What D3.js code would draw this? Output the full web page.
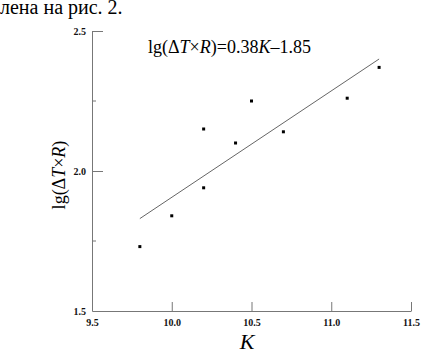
<!DOCTYPE html>
<html>
<head>
<meta charset="utf-8">
<script src="https://cdn.jsdelivr.net/npm/d3@7"></script>
<style>
  html, body { margin: 0; padding: 0; background: #fff; }
  svg { display: block; }
</style>
</head>
<body>
<div id="chart"></div>
<script>
// measured points
const kValues = [9.8, 10.0, 10.2, 10.2, 10.4, 10.5, 10.7, 11.1, 11.3];
const lgValues = [1.73, 1.84, 1.94, 2.15, 2.10, 2.25, 2.14, 2.26, 2.37];
// fitted line ends
const fitK = [9.8, 11.3];
const fitLg = [1.83, 2.40];
const xTicks = [9.5, 10.0, 10.5, 11.0, 11.5];
const yTicks = [1.5, 2.0, 2.5];
const yMinorTicks = [1.75, 2.25];

const W = 421, H = 354;
const margin = { top: 31, right: 10, bottom: 43, left: 92 };
const serif = 'Liberation Serif';
const axisColor = '#777';

const svg = d3.select('#chart').append('svg')
  .attr('width', W).attr('height', H);

// caption fragment at the top of the page
svg.append('text')
  .attr('x', 0).attr('y', 14)
  .attr('font-family', serif).attr('font-size', 20)
  .attr('fill', '#000')
  .text('лена на рис. 2.');

const x = d3.scaleLinear().domain([9.5, 11.5]).range([margin.left, W - margin.right]);
const y = d3.scaleLinear().domain([1.5, 2.5]).range([H - margin.bottom, margin.top]);

// axes with inward ticks
const xAxis = svg.append('g')
  .attr('transform', `translate(0,${y(1.5)})`)
  .call(d3.axisBottom(x).tickValues(xTicks).tickSizeInner(-9).tickSizeOuter(0)
    .tickFormat(d3.format('.1f')));
xAxis.attr('font-family', serif).attr('font-size', 10).attr('font-weight', 'bold');
xAxis.select('.domain').attr('stroke', axisColor);
xAxis.selectAll('.tick line').attr('stroke', axisColor);
xAxis.selectAll('.tick text')
  .attr('y', 8).attr('dy', '0.71em')
  .attr('fill', '#111');
xAxis.selectAll('.tick').filter(d => d === 9.5).select('line').remove();

const yAxis = svg.append('g')
  .attr('transform', `translate(${x(9.5)},0)`)
  .call(d3.axisLeft(y).tickValues(yTicks).tickSizeInner(-11).tickSizeOuter(0)
    .tickFormat(d3.format('.1f')));
yAxis.attr('font-family', serif).attr('font-size', 10).attr('font-weight', 'bold');
yAxis.select('.domain').attr('stroke', axisColor);
yAxis.selectAll('.tick line').attr('stroke', axisColor);
yAxis.selectAll('.tick text')
  .attr('x', -6)
  .attr('fill', '#111');
yAxis.selectAll('.tick').filter(d => d === 1.5).select('line').remove();

svg.append('g').selectAll('line')
  .data(yMinorTicks).join('line')
  .attr('x1', x(9.5)).attr('x2', x(9.5) + 4)
  .attr('y1', d => y(d)).attr('y2', d => y(d))
  .attr('stroke', axisColor);

// fitted line
svg.append('line')
  .attr('x1', x(fitK[0])).attr('y1', y(fitLg[0]))
  .attr('x2', x(fitK[1])).attr('y2', y(fitLg[1]))
  .attr('stroke', '#666').attr('stroke-width', 1);

// points
const pts = kValues.map((k, i) => ({ k, v: lgValues[i] }));
svg.append('g').selectAll('rect')
  .data(pts).join('rect')
  .attr('x', d => x(d.k) - 1.5).attr('y', d => y(d.v) - 1.5)
  .attr('width', 3).attr('height', 3)
  .attr('fill', '#000');

// equation
const eq = svg.append('text')
  .attr('x', 148).attr('y', 53)
  .attr('font-family', serif).attr('font-size', 18).attr('fill', '#000');
eq.append('tspan').text('lg(Δ');
eq.append('tspan').attr('font-style', 'italic').text('T');
eq.append('tspan').text('×');
eq.append('tspan').attr('font-style', 'italic').text('R');
eq.append('tspan').text(')=0.38');
eq.append('tspan').attr('font-style', 'italic').text('K');
eq.append('tspan').text('–1.85');

// axis titles
const yl = svg.append('text')
  .attr('transform', `translate(65,${y(2.0) + 4}) rotate(-90)`)
  .attr('text-anchor', 'middle')
  .attr('font-family', serif).attr('font-size', 18).attr('fill', '#000');
yl.append('tspan').text('lg(Δ');
yl.append('tspan').attr('font-style', 'italic').text('T');
yl.append('tspan').text('×');
yl.append('tspan').attr('font-style', 'italic').text('R');
yl.append('tspan').text(')');

svg.append('text')
  .attr('x', 247).attr('y', 349)
  .attr('text-anchor', 'middle')
  .attr('font-family', serif).attr('font-size', 22).attr('font-style', 'italic')
  .attr('fill', '#000')
  .text('K');
</script>
</body>
</html>
